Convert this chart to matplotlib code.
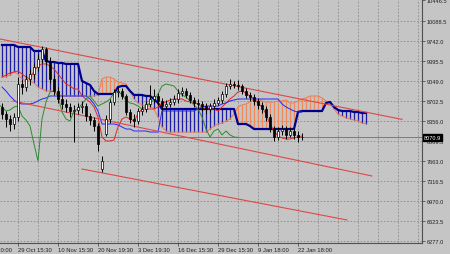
import numpy as np
import matplotlib
matplotlib.use("Agg")
import matplotlib.pyplot as plt
from matplotlib import transforms

# ---- candles (one entry per bar) ----
bar_open = [8599, 8477, 8391, 8304, 8425, 8997, 8945, 9084, 9170, 9292,
            9430, 9603, 9396, 9084, 8876, 8737, 8651, 8599, 8529, 8547,
            8599, 8616, 8443, 8373, 8269, 7524, 8131, 8391, 8685, 8858,
            8876, 8789, 8512, 8391, 8356, 8529, 8564, 8651, 8737, 8789,
            8703, 8616, 8651, 8685, 8737, 8841, 8876, 8807, 8720, 8668,
            8651, 8616, 8564, 8616, 8668, 8720, 8824, 8962, 8997, 8980,
            8962, 8876, 8807, 8772, 8703, 8633, 8564, 8425, 8217, 8079,
            8183, 8217, 8114, 8183, 8114, 8079]
bar_close = [8477, 8391, 8304, 8425, 8997, 8945, 9084, 9170, 9292, 9430,
             9603, 9396, 9084, 8876, 8737, 8651, 8599, 8529, 8547, 8599,
             8616, 8443, 8373, 8269, 7958, 7663, 8391, 8685, 8858, 8876,
             8789, 8512, 8391, 8356, 8529, 8564, 8651, 8737, 8789, 8703,
             8616, 8651, 8685, 8737, 8841, 8876, 8807, 8720, 8668, 8651,
             8616, 8564, 8616, 8668, 8720, 8824, 8962, 8997, 8980, 8962,
             8876, 8807, 8772, 8703, 8633, 8564, 8425, 8217, 8079, 8183,
             8217, 8114, 8183, 8114, 8079, 8070.9]
bar_high = [8668, 8529, 8460, 8495, 9118, 9084, 9153, 9257, 9361, 9517,
            9655, 9638, 9465, 9153, 8945, 8807, 8737, 8668, 8633, 8668,
            8703, 8668, 8495, 8425, 8321, 7750, 8460, 8737, 8910, 8945,
            8928, 8824, 8564, 8477, 8581, 8633, 8703, 8980, 8910, 8841,
            8755, 8720, 8755, 8807, 8910, 8945, 8928, 8858, 8772, 8737,
            8703, 8668, 8668, 8737, 8772, 8876, 9014, 9084, 9049, 9066,
            8997, 8928, 8858, 8824, 8755, 8685, 8616, 8477, 8269, 8252,
            8287, 8269, 8252, 8235, 8183, 8148]
bar_low = [8391, 8252, 8183, 8217, 8356, 8824, 8876, 8980, 9084, 9222,
           9361, 9326, 9014, 8807, 8668, 8564, 8512, 8425, 7992, 8477,
           8495, 8356, 8287, 8183, 7836, 7472, 8096, 8321, 8633, 8772,
           8737, 8460, 8321, 8252, 8304, 8460, 8512, 8599, 8668, 8633,
           8547, 8564, 8599, 8633, 8668, 8789, 8755, 8668, 8599, 8564,
           8529, 8477, 8512, 8564, 8633, 8668, 8772, 8910, 8928, 8893,
           8824, 8755, 8703, 8633, 8564, 8495, 8356, 8165, 8010, 8027,
           8114, 8044, 8079, 8044, 7992, 8027]

# ---- Ichimoku lines ----
tenkan = [9118, 9153, 9188, 9205, 9222, 9170, 9118, 9084, 9222, 9309,
          9344, 9344, 9309, 9257, 9170, 9084, 8997, 8962, 8910, 8910,
          8789, 8737, 8685, 8599, 8425, 8079, 8010, 8010, 8027, 8252,
          8391, 8425, 8391, 8356, 8477, 8564, 8564, 8564, 8564, 8599,
          8668, 8685, 8720, 8737, 8737, 8737, 8703, 8685, 8685, 8651,
          8599, 8564, 8564, 8564, 8529, 8599, 8668, 8737, 8789, 8858,
          8876, 8841, 8789, 8737, 8668, 8599, 8477, 8304, 8183, 8096,
          8062, 8044, 8044, 8062, 8079, 8096]
kijun = [8945, 8876, 8789, 8720, 8668, 8651, 8651, 8651, 8668, 8703,
         8737, 8755, 8789, 8789, 8789, 8789, 8789, 8789, 8789, 8789,
         8789, 8789, 8737, 8651, 8529, 8304, 8304, 8304, 8304, 8287,
         8252, 8217, 8217, 8183, 8183, 8183, 8183, 8165, 8165, 8165,
         8529, 8529, 8529, 8529, 8529, 8529, 8529, 8529, 8529, 8564,
         8599, 8616, 8616, 8616, 8616, 8651, 8668, 8703, 8720, 8737,
         8737, 8737, 8737, 8737, 8737, 8737, 8737, 8737, 8737, 8737,
         8651, 8599, 8564, 8529, 8512, 8512]
span_a = [9118, 9118, 9153, 9205, 9170, 9084, 9049, 9049, 9014, 8945,
          8910, 8876, 8876, 8876, 8824, 8789, 8789, 8789, 8789, 8789,
          8789, 8789, 8789, 8789, 8807, 9084, 9118, 9118, 9084, 9032,
          9014, 8997, 8876, 8737, 8668, 8633, 8616, 8616, 8564, 8425,
          8252, 8183, 8165, 8165, 8165, 8165, 8165, 8165, 8165, 8165,
          8165, 8165, 8217, 8269, 8304, 8321, 8356, 8391, 8477, 8599,
          8633, 8651, 8685, 8720, 8720, 8703, 8685, 8685, 8685, 8703,
          8703, 8720, 8668, 8668, 8703, 8737, 8755, 8789, 8789, 8789,
          8755, 8703, 8668, 8564, 8477, 8443, 8408, 8391, 8373, 8356,
          8321, 8304]
span_b = [9673, 9673, 9673, 9673, 9638, 9638, 9638, 9638, 9569, 9569,
          9569, 9396, 9378, 9378, 9361, 9361, 9344, 9344, 9344, 9344,
          9049, 9014, 8980, 8876, 8824, 8824, 8824, 8824, 8824, 8945,
          8962, 8962, 8876, 8807, 8807, 8807, 8789, 8789, 8737, 8668,
          8564, 8564, 8564, 8564, 8564, 8564, 8564, 8564, 8564, 8564,
          8564, 8564, 8564, 8564, 8564, 8564, 8564, 8564, 8564, 8304,
          8304, 8304, 8269, 8217, 8217, 8217, 8217, 8217, 8217, 8217,
          8217, 8217, 8217, 8217, 8512, 8529, 8529, 8529, 8529, 8529,
          8529, 8668, 8685, 8599, 8547, 8529, 8529, 8529, 8512, 8512,
          8495, 8495]
chikou_shift = 16
last_price = 8070.9

# ---- hand drawn channel (bar index, price) ----
trend_top = ([-0.5, 100.0], [9777, 8384])
trend_mid = ([2.75, 92.5], [8703, 7403])
trend_low = ([20.0, 86.25], [7524, 6641])

price_ticks = [6277.0, 6623.5, 6970.0, 7316.5, 7663.0, 8009.5, 8356.0,
               8702.5, 9049.0, 9395.5, 9742.0, 10088.5]
price_max = 10446.5
date_bars = [4, 14, 24, 34, 44, 54, 64, 74]
date_labels = ["29 Oct 15:30", "10 Nov 15:30", "20 Nov 19:30", "3 Dec 19:30",
               "16 Dec 15:30", "29 Dec 15:30", "9 Jan 18:00", "22 Jan 18:00"]
first_label = "16 Oct 10:00"

BG = "#c5c5c5"
GRID = "#8c8c8c"
AXIS = "#505050"
TXT = "#202020"
FS_Y = 4.1
FS_X = 4.2
plt.rcParams["font.family"] = ["Liberation Sans", "DejaVu Sans"]

fig = plt.figure(figsize=(4.5, 2.55), dpi=100, facecolor=BG)
ax = fig.add_axes([0, 11 / 255, 422 / 450, 244 / 255], facecolor=BG)
ax.set_xlim(-0.5, 105)
ax.set_ylim(6242.3, 10469.6)

# dotted grid
for v in price_ticks:
    ax.axhline(v, color=GRID, lw=0.6, ls=(0, (2, 2)), zorder=0)
for v in np.arange(-1, 106, 5):
    ax.axvline(v, color=GRID, lw=0.6, ls=(0, (2, 2)), zorder=0)

# cloud
a = np.array(span_a)
b = np.array(span_b)
xs = np.arange(len(a))
bear = b >= a
ax.vlines(xs[bear], a[bear], b[bear], color="#1c1ca8", lw=0.9, zorder=1)
ax.vlines(xs[~bear], a[~bear], b[~bear], color="#f08a5a", lw=0.9, zorder=1)
ax.plot(xs, a, color="#f07850", lw=0.7, zorder=2)
ax.plot(xs, b, color="#000090", lw=1.6, zorder=2)

# tenkan / kijun / chikou
x = np.arange(len(bar_close))
ax.plot(x, tenkan, color="#e02828", lw=0.7, zorder=3)
ax.plot(x, kijun, color="#2626ff", lw=0.7, zorder=3)
ax.plot(x - chikou_shift, bar_close, color="#2f8a2f", lw=0.7, zorder=3)

# candles
o = np.array(bar_open)
c = np.array(bar_close)
ax.vlines(x, bar_low, bar_high, color="black", lw=0.7, zorder=4)
up = c >= o
ax.bar(x[up], (c - o)[up], bottom=o[up], width=0.55, color="white",
       edgecolor="black", lw=0.5, zorder=5)
ax.bar(x[~up], (o - c)[~up], bottom=c[~up], width=0.55, color="black",
       edgecolor="black", lw=0.5, zorder=5)

# channel lines
for xx, yy in (trend_top, trend_mid, trend_low):
    ax.plot(xx, yy, color="#e04848", lw=0.8, zorder=3)

# bid line
ax.axhline(last_price, color="#7a7a7a", lw=0.7, zorder=2)

# axes look
for side in ("top", "left"):
    ax.spines[side].set_visible(False)
for side in ("right", "bottom"):
    ax.spines[side].set_color(AXIS)
    ax.spines[side].set_linewidth(0.8)

ax.yaxis.tick_right()
ax.set_yticks(price_ticks + [price_max])
ax.set_yticklabels([f"{v:.1f}" for v in price_ticks + [price_max]])
ax.tick_params(axis="y", length=2, width=0.6, color=AXIS, pad=1.5,
               labelsize=FS_Y, labelcolor=TXT)
ax.set_xticks(date_bars)
ax.set_xticklabels(date_labels)
ax.tick_params(axis="x", length=2, width=0.6, color=AXIS, pad=1.2,
               labelsize=FS_X, labelcolor=TXT)
for lbl in ax.get_xticklabels():
    lbl.set_ha("left")

# first date label, mostly off the left edge as in the terminal window
trans = transforms.blended_transform_factory(ax.transData, ax.transAxes)
ax.text(-6, -4 / 244, first_label, transform=trans, ha="left", va="top",
        fontsize=FS_X, color=TXT, clip_on=False)

# current price tag
trans_y = transforms.blended_transform_factory(ax.transAxes, ax.transData)
ax.text(1.004, last_price, f"{last_price:.1f}", transform=trans_y,
        ha="left", va="center", fontsize=FS_Y, color="white", clip_on=False,
        zorder=10, bbox=dict(facecolor="black", edgecolor="black", pad=0.6))

fig.savefig("out.png", dpi=100, facecolor=BG)
